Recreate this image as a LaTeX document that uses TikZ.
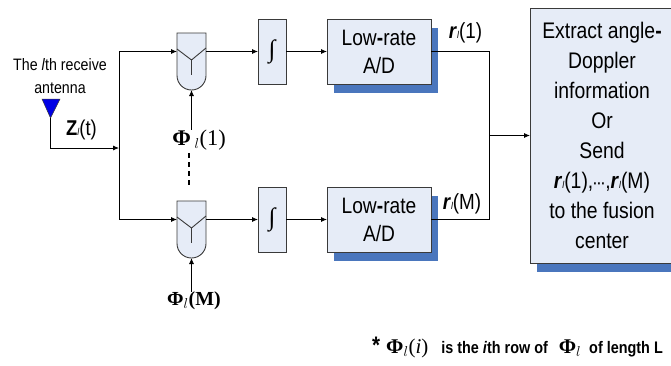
\documentclass[tikz,border=0pt]{standalone}
\usepackage{amsmath}
\usepackage{fontspec}
\setmainfont{Liberation Sans}[FakeStretch=0.86]
\newfontfamily\phifont{Liberation Serif}
\usetikzlibrary{shadows,arrows.meta}
\definecolor{boxfill}{HTML}{E6ECF7}
\definecolor{boxshadow}{HTML}{4A76BD}
\definecolor{boxline}{HTML}{3A3A3A}
\tikzset{
    blockbox/.style = {draw=boxline, fill=boxfill, line width=0.9bp, rectangle, inner sep=0pt, outer sep=0pt, align=center},
    shadowbox/.style = {blockbox, drop shadow={shadow xshift=7bp, shadow yshift=-9bp, opacity=1, fill=boxshadow}},
    adc-box/.style = {shadowbox, minimum width=104bp, minimum height=65bp, font=\fontsize{22.4}{28}\selectfont},
    int-box/.style = {blockbox, minimum width=28bp, minimum height=65bp, font=\phifont\bfseries\fontsize{25}{25}\selectfont},
    mix-box/.style = {rectangle, inner sep=0pt, outer sep=0pt, minimum width=29bp, minimum height=57bp},
    mix-line/.style = {draw=boxline, line width=0.9bp},
    sig/.style = {-{Latex[length=6bp,width=5bp]}, line width=0.8bp, black},
    wire/.style = {line width=0.8bp, black},
    sig-label/.style = {inner sep=0pt, outer sep=0pt, font=\fontsize{22}{22}\selectfont},
    phi-label/.style = {inner sep=0pt, outer sep=0pt, font=\phifont\fontsize{22.5}{22.5}\selectfont},
}
\newcommand{\sublt}{{\fontsize{10}{10}\selectfont\itshape\/l}}
\newcommand{\rsig}{\textbf{\textit{r}}\sublt}
\newcommand{\phib}{{\phifont\bfseries Φ}}
% mixer outline with its in, out and phi points
\newcommand{\mixer}[3]{
    \node [mix-box] (#1) at (#2,#3) {};
    \fill [boxfill] (#1.north west) -- (#1.north east) -- ++(0,-42.5bp) arc[start angle=360, end angle=180, radius=14.5bp] -- cycle;
    \draw [mix-line] (#1.north west) -- (#1.north east) -- ++(0,-42.5bp) arc[start angle=360, end angle=180, radius=14.5bp] -- cycle;
    \coordinate (#1in) at ([yshift=-18.5bp]#1.north west);
    \coordinate (#1out) at ([yshift=-18.5bp]#1.north east);
    \coordinate (#1mid) at ([yshift=-27bp]#1.north);
    \draw [mix-line] ([yshift=-16bp]#1.north west) -- (#1mid) -- ([yshift=-15bp]#1.north east);
    \draw [mix-line] (#1mid) -- ([yshift=-42bp]#1.north);
}

\begin{document}
\begin{tikzpicture}[x=1bp, y=-1bp]
\useasboundingbox (0,0) rectangle (671,365);

% first branch
\mixer{mixA}{191.5}{61.5}
\node [int-box] (intA) at (272,51.5) {∫};
\node [adc-box] (adcA) at (379,51.5) {Low\textbf{-}rate\\A/D};
% last branch
\mixer{mixM}{191.5}{229.5}
\node [int-box] (intM) at (272,219.5) {∫};
\node [adc-box] (adcM) at (379,219.5) {Low\textbf{-}rate\\A/D};

\node [shadowbox, minimum width=144bp, minimum height=255bp, font=\fontsize{22.6}{30}\selectfont] (info) at (602,135.5)
    {Extract angle\textbf{-}\\Doppler\\information\\Or\\Send\\\rsig(1),{\fontsize{14}{14}\selectfont\textbf{···}},\rsig(M)\\to the fusion\\center};

% antenna
\node [inner sep=0pt, align=center, font=\fontsize{16.6}{23}\selectfont] (antLabel) at (60,76) {The \textit{l}th receive\\antenna};
\coordinate (antTip) at (50.5,118);
\fill [blue!90!black, draw=boxline, line width=0.5bp] (42,99) -- (60,99) -- (antTip) -- cycle;
\node [sig-label, font=\fontsize{21.5}{21.5}\selectfont] (zLabel) at (81.5,130) {\textbf{Z}\sublt(t)};

% bus points
\coordinate (busC) at (119,148);
\coordinate (busA) at (119,51.5);
\coordinate (busM) at (119,219.5);
\coordinate (busR) at (489,135.5);

\draw [sig] (antTip) |- (busC);
\draw [wire] (busA) -- (busM);
\draw [sig] (busA) -- (mixAin);
\draw [sig] (busM) -- (mixMin);
\draw [sig] (mixAout) -- (intA.west);
\draw [sig] (mixMout) -- (intM.west);
\draw [sig] (intA.east) -- (adcA.west);
\draw [sig] (intM.east) -- (adcM.west);
\draw [wire] (adcA.east) -| (busR);
\draw [wire] (adcM.east) -| (busR);
\draw [sig] (busR) -- (info.west);

% labels and weights
\node [sig-label] (rA) at (465.5,33) {\rsig(1)};
\node [sig-label] (rM) at (462,204) {\rsig(M)};
\node [phi-label] (phiA) at (199,140) {\phib\,$_{l}$(1)};
\node [phi-label, font=\phifont\bfseries\fontsize{20}{20}\selectfont] (phiM) at (194,301) {\phib$_{l}$(M)};
\draw [sig] (phiA.north -| mixA.south) -- (mixA.south);
\draw [sig] (phiM.north -| mixM.south) -- (mixM.south);
\coordinate (dotsA) at (189,153);
\coordinate (dotsM) at (189,185);
\draw [line width=1.6bp, dash pattern=on 4.5bp off 4.5bp] (dotsA) -- (dotsM);

% note
\node [anchor=west, inner sep=0pt, font=\bfseries\fontsize{16.8}{16.8}\selectfont] (note) at (372,347)
    {{\fontsize{24}{24}\selectfont *}\hspace{6bp}{\phifont\fontsize{21}{21}\selectfont\phib$_{l}$\mdseries(\textit{i})}\hspace{13bp}is the \textit{i}th row of\hspace{11bp}{\fontsize{21}{21}\selectfont\phib$_{l}$}\hspace{8bp}of length L};
\end{tikzpicture}
\end{document}
